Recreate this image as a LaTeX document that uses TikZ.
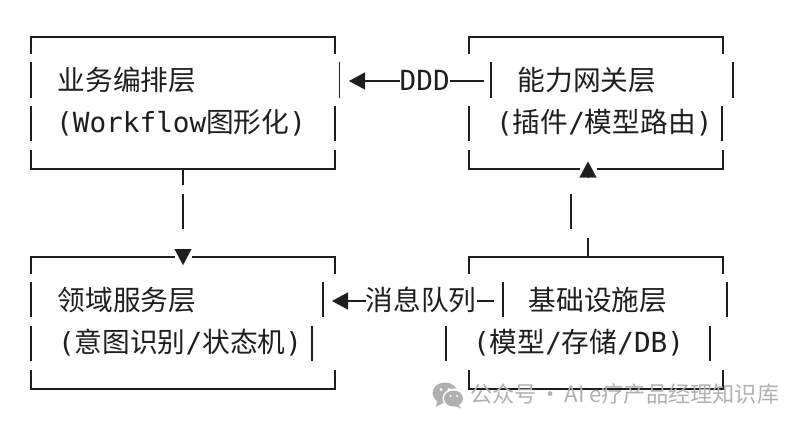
\documentclass[tikz,border=0pt]{standalone}
\usepackage{fontspec}
\setmainfont{DejaVu Sans Mono}
\newfontfamily\cjk{Noto Sans CJK SC}
\usetikzlibrary{arrows.meta}
\definecolor{inkc}{RGB}{30,30,30}
\definecolor{markc}{RGB}{176,176,176}
\tikzset{
  wall/.style={color=inkc,line width=1.7pt},
  link/.style={color=inkc,line width=1.5pt},
  headtip/.style={color=inkc,line width=0.1pt,-{Triangle[length=16pt,width=17pt]}},
  lefttip/.style={link,-{Triangle[length=16pt,width=17pt]}},
  txt/.style={anchor=west,inner sep=0pt,text=inkc,font=\fontsize{27.7}{32}\selectfont,text height=24pt,text depth=6pt},
  marktxt/.style={anchor=west,inner sep=0pt,text=markc,font=\fontsize{22.2}{26}\cjk}
}
\begin{document}
\begin{tikzpicture}[x=1pt,y=1pt,yscale=-1,xscale=1]
\useasboundingbox (0,0) rectangle (806,426);

%Coordinates for the free connector ends
\coordinate (orchOut) at (183,169);
\coordinate (orchGap) at (183,185);
\coordinate (domGap) at (183,194);
\coordinate (domEnd) at (183,229);
\coordinate (domTipA) at (183,249);
\coordinate (domTipB) at (183,265);
\coordinate (gateTipA) at (588,177.5);
\coordinate (gateTipB) at (588,161.5);
\coordinate (gateGap) at (570.7,194);
\coordinate (gateEnd) at (570.7,229);
\coordinate (infraOut) at (588,257);
\coordinate (infraGap) at (588,238);
\coordinate (orchTip) at (349,81);
\coordinate (gateWall) at (484,81);
\coordinate (domTip) at (332,301);
\coordinate (infraWall) at (494,301);

%Shape: orchestration box
\draw [wall] (31,53.5) -- (31,36.7) -- (335,36.7) -- (335,53.5);
\draw [wall] (31,61.5) -- (31,97.5);
\draw [wall] (339.5,61.5) -- (339.5,97.5);
\draw [wall] (31,106) -- (31,141);
\draw [wall] (335,106) -- (335,141);
\draw [wall] (31,150) -- (31,169) -- (335,169) -- (335,150);

%Shape: gateway box
\draw [wall] (469,53.5) -- (469,36.7) -- (723,36.7) -- (723,53.5);
\draw [wall] (491.3,61.5) -- (491.3,97.5);
\draw [wall] (733,61.5) -- (733,97.5);
\draw [wall] (469,106) -- (469,141);
\draw [wall] (722,106) -- (722,141);
\draw [wall] (579.5,169) -- (469,169) -- (469,150);
\draw [wall] (596.5,169) -- (723,169) -- (723,150);

%Shape: domain box
\draw [wall] (31,273.5) -- (31,257) -- (175,257);
\draw [wall] (192,257) -- (335,257) -- (335,273.5);
\draw [wall] (31,282) -- (31,317);
\draw [wall] (323,282) -- (323,317);
\draw [wall] (31,325.5) -- (31,361);
\draw [wall] (312,325.5) -- (312,361);
\draw [wall] (31,370) -- (31,389) -- (335,389) -- (335,370);

%Shape: infrastructure box
\draw [wall] (469,273.5) -- (469,257) -- (723,257) -- (723,273.5);
\draw [wall] (502.7,282) -- (502.7,317);
\draw [wall] (727,282) -- (727,317);
\draw [wall] (446.3,325.5) -- (446.3,361);
\draw [wall] (710,325.5) -- (710,361);
\draw [wall] (469,370) -- (469,389) -- (723,389) -- (723,370);

%Text
\node [txt] (orchName) at (57.5,81) {\cjk 业务编排层};
\node [txt] (orchSub) at (56,123) {(Workflow{\cjk 图形化})};
\node [txt] (gateName) at (517.5,81) {\cjk 能力网关层};
\node [txt] (gateSub) at (496,123) {(\cjk 插件\rmfamily/\cjk 模型路由\rmfamily)};
\node [txt] (domName) at (57.5,301) {\cjk 领域服务层};
\node [txt] (domSub) at (58,343) {(\cjk 意图识别\rmfamily/\cjk 状态机\rmfamily)};
\node [txt] (infraName) at (528.5,301) {\cjk 基础设施层};
\node [txt] (infraSub) at (473,343) {(\cjk 模型\rmfamily/\cjk 存储\rmfamily/DB)};
\node [txt] (ddd) at (399.5,81) {DDD};
\node [txt] (mq) at (365.5,301) {\cjk 消息队列};

%Straight Lines
\draw [lefttip] (ddd.west) -- (orchTip);
\draw [link] (ddd.east) -- (gateWall);
\draw [lefttip] (mq.west) -- (domTip);
\draw [link] (mq.east) -- (infraWall);
\draw [wall] (orchOut) -- (orchGap);
\draw [wall] (domGap) -- (domEnd);
\draw [headtip] (domTipA) -- (domTipB);
\draw [wall] (infraOut) -- (infraGap);
\draw [wall] (gateEnd) -- (gateGap);
\draw [headtip] (gateTipA) -- (gateTipB);

%Shape: watermark bubbles
\fill [markc] (445,393) ellipse (12.5pt and 10.5pt);
\fill [white] (454,398.5) ellipse (11.5pt and 10pt);
\fill [markc] (453.5,398.5) ellipse (9.5pt and 8pt);
\fill [markc] (437,401) -- (436,407) -- (443,403) -- cycle;
\fill [markc] (458,404) -- (461,408.5) -- (453,405.5) -- cycle;
\fill [white] (441,389.5) circle (1.6pt) (449,389.5) circle (1.6pt);
\fill [white] (450.5,396) circle (1.2pt) (457,396) circle (1.2pt);
\node [marktxt] (mark) at (470,394) {公众号\hspace{3pt}·\hspace{3pt}AI\hspace{4.5pt}e疗产品经理知识库};
\end{tikzpicture}
\end{document}
